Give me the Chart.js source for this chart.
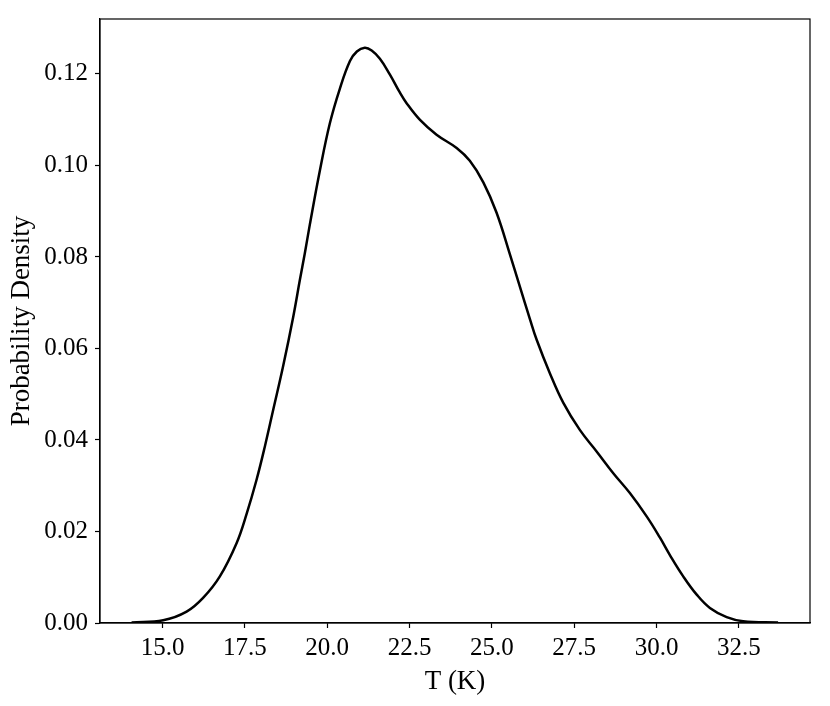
<!DOCTYPE html>
<html>
<head>
<meta charset="utf-8">
<script src="https://cdn.jsdelivr.net/npm/chart.js@4/dist/chart.umd.min.js"></script>
<style>
  html, body { margin: 0; padding: 0; background: #fff; }
  #wrap { width: 830px; height: 706px; }
</style>
</head>
<body>
<div id="wrap"><canvas id="kde"></canvas></div>
<script>
// KDE curve
const tempK = [14.06, 15.02, 15.73, 16.23, 16.74, 17.25, 17.55, 17.85, 18.11, 18.36, 18.66, 18.97, 19.17, 19.32, 19.47, 19.78, 20.08, 20.38, 20.69, 20.9, 21.14, 21.35, 21.6, 21.9, 22.2, 22.41, 22.81, 23.32, 23.93, 24.33, 24.74, 25.14, 25.55, 25.85, 26.16, 26.36, 26.76, 27.17, 27.67, 28.18, 28.68, 29.19, 29.7, 30.1, 30.41, 30.81, 31.22, 31.62, 32.13, 32.63, 33.69];
const density = [0.0001, 0.0006, 0.0025, 0.0055, 0.0102, 0.0175, 0.0238, 0.0312, 0.0387, 0.0466, 0.0561, 0.067, 0.075, 0.0808, 0.087, 0.099, 0.1092, 0.1167, 0.1228, 0.1249, 0.1257, 0.1251, 0.1233, 0.1199, 0.116, 0.1136, 0.11, 0.1067, 0.1038, 0.1010, 0.0963, 0.0897, 0.0805, 0.0735, 0.0663, 0.0619, 0.0546, 0.0481, 0.0422, 0.0375, 0.0328, 0.0284, 0.0233, 0.0187, 0.0148, 0.0102, 0.0062, 0.0033, 0.0013, 0.0004, 0.0001];

const xTicks = [15.0, 17.5, 20.0, 22.5, 25.0, 27.5, 30.0, 32.5];
const yTicks = [0.00, 0.02, 0.04, 0.06, 0.08, 0.10, 0.12];

const serif = "'Liberation Serif', 'Times New Roman', serif";

const frame = {
  id: "frame",
  afterDraw(chart) {
    const { ctx, chartArea: a } = chart;
    ctx.save();
    ctx.strokeStyle = "#000";
    ctx.lineWidth = 1.2;
    ctx.strokeRect(a.left, a.top, a.right - a.left, a.bottom - a.top);
    ctx.restore();
  },
};

new Chart(document.getElementById("kde").getContext("2d"), {
  type: "line",
  data: {
    datasets: [{
      data: tempK.map((t, i) => ({ x: t, y: density[i] })),
      borderColor: "#000",
      borderWidth: 2.5,
      pointRadius: 0,
      tension: 0.4,
      fill: false,
    }],
  },
  options: {
    responsive: true,
    maintainAspectRatio: false,
    animation: false,
    layout: { padding: { top: 19, right: 20, left: 0, bottom: 0 } },
    plugins: { legend: { display: false }, tooltip: { enabled: false } },
    scales: {
      x: {
        type: "linear",
        min: 13.1,
        max: 34.66,
        afterBuildTicks: (s) => { s.ticks = xTicks.map((v) => ({ value: v })); },
        afterFit: (s) => { s.height = 83; s.paddingLeft = 0; s.paddingRight = 0; },
        grid: { drawOnChartArea: false, tickLength: 5, tickColor: "#000", tickWidth: 1.2 },
        border: { color: "#000", width: 1.2 },
        ticks: { color: "#000", padding: 5, maxRotation: 0, font: { family: serif, size: 25 }, callback: (v) => Number(v).toFixed(1) },
        title: { display: true, text: "T (K)", color: "#000", font: { family: serif, size: 27 }, padding: { top: 4, bottom: 8 } },
      },
      y: {
        min: 0,
        max: 0.132,
        afterBuildTicks: (s) => { s.ticks = yTicks.map((v) => ({ value: v })); },
        afterFit: (s) => { s.width = 100; s.paddingTop = 0; s.paddingBottom = 0; },
        grid: { drawOnChartArea: false, tickLength: 5, tickColor: "#000", tickWidth: 1.2 },
        border: { color: "#000", width: 1.2 },
        ticks: { color: "#000", padding: 7, font: { family: serif, size: 25 }, callback: (v) => Number(v).toFixed(2) },
        title: { display: true, text: "Probability Density", color: "#000", font: { family: serif, size: 27 }, padding: { top: 6, bottom: 0 } },
      },
    },
  },
  plugins: [frame],
});
</script>
</body>
</html>
